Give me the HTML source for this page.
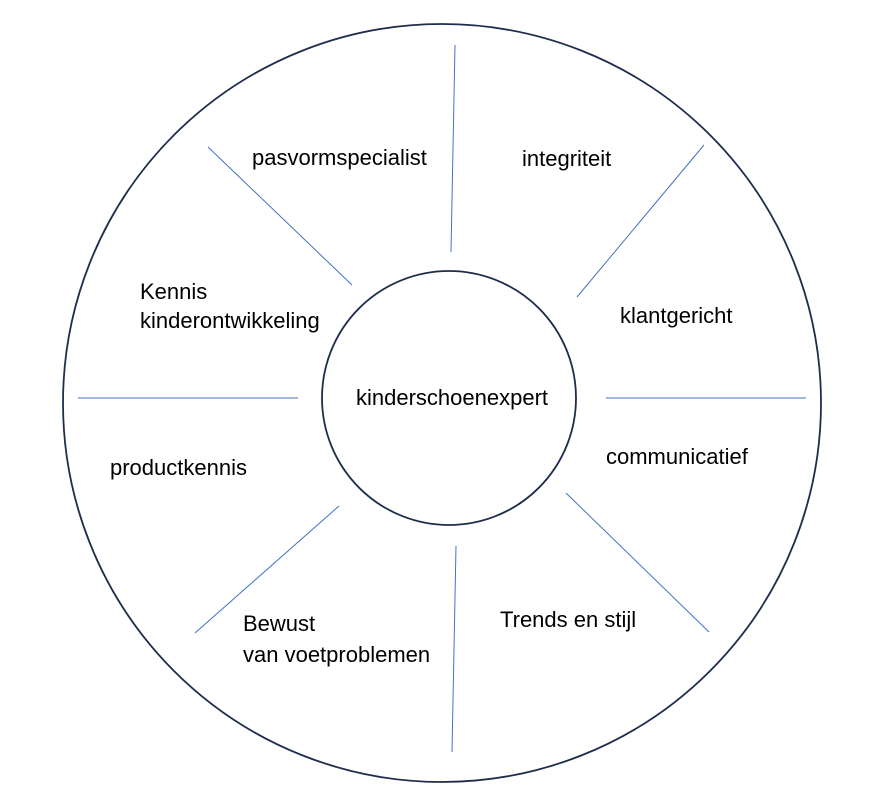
<!DOCTYPE html>
<html><head><meta charset="utf-8"><style>
html,body{margin:0;padding:0;background:#fff;}
svg{display:block;}
text{font-family:"Liberation Sans",Arial,sans-serif;font-size:22px;fill:#000;}
</style></head><body>
<svg width="886" height="810" viewBox="0 0 886 810" xmlns="http://www.w3.org/2000/svg">
<circle cx="442" cy="403" r="379" fill="#fff" stroke="#1f2d4d" stroke-width="1.8"/>
<circle cx="449" cy="398" r="127" fill="#fff" stroke="#1f2d4d" stroke-width="1.8"/>
<g stroke="#4472C4" stroke-width="1">
<line x1="455" y1="45" x2="451" y2="252"/>
<line x1="208" y1="147" x2="352" y2="285"/>
<line x1="704" y1="145" x2="577" y2="297"/>
<line x1="78" y1="398" x2="298" y2="398"/>
<line x1="606" y1="398" x2="806" y2="398"/>
<line x1="339" y1="506" x2="195" y2="633"/>
<line x1="566" y1="493" x2="709" y2="632"/>
<line x1="456" y1="546" x2="452" y2="752"/>
</g>
<text x="252" y="165">pasvormspecialist</text>
<text x="522" y="166">integriteit</text>
<text x="620" y="323">klantgericht</text>
<text x="606" y="464">communicatief</text>
<text x="500" y="627">Trends en stijl</text>
<text x="243" y="631">Bewust</text>
<text x="243" y="662">van voetproblemen</text>
<text x="110" y="475">productkennis</text>
<text x="140" y="299">Kennis</text>
<text x="140" y="328">kinderontwikkeling</text>
<text x="356" y="405">kinderschoenexpert</text>
</svg>
</body></html>
